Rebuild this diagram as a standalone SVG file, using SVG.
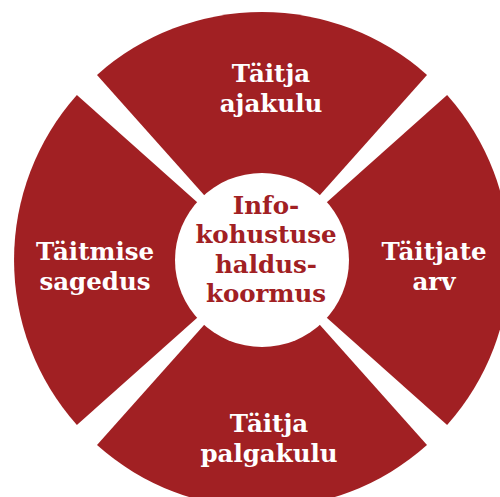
<svg xmlns="http://www.w3.org/2000/svg" width="500" height="497" viewBox="0 0 500 497">
<style>
.sec{fill:#A12023}
.lbl{font-family:"DejaVu Serif","Liberation Serif",serif;font-weight:bold;font-size:24.5px;fill:#ffffff;text-anchor:middle}
.ctr{font-family:"DejaVu Serif","Liberation Serif",serif;font-weight:bold;font-size:24.5px;fill:#A12023;text-anchor:middle}
</style>
<rect width="500" height="497" fill="#ffffff"/>
<g id="top">
<path class="sec" d="M262,260 L97,74.9 A248,248 0 0 1 427,74.9 Z"/>
<text class="lbl" x="271" y="82">Täitja</text>
<text class="lbl" x="271" y="112">ajakulu</text>
</g>
<g id="right">
<path class="sec" d="M262,260 L447.1,95 A248,248 0 0 1 447.1,425 Z"/>
<text class="lbl" x="434" y="260">Täitjate</text>
<text class="lbl" x="434" y="290">arv</text>
</g>
<g id="bottom">
<path class="sec" d="M262,260 L427,445.1 A248,248 0 0 1 97,445.1 Z"/>
<text class="lbl" x="269" y="432">Täitja</text>
<text class="lbl" x="269" y="462">palgakulu</text>
</g>
<g id="left">
<path class="sec" d="M262,260 L76.9,425 A248,248 0 0 1 76.9,95 Z"/>
<text class="lbl" x="95" y="260">Täitmise</text>
<text class="lbl" x="95" y="290">sagedus</text>
</g>
<g id="center">
<circle cx="262" cy="260" r="87" fill="#ffffff"/>
<text class="ctr" x="266" y="214">Info-</text>
<text class="ctr" x="266" y="243">kohustuse</text>
<text class="ctr" x="266" y="273">haldus-</text>
<text class="ctr" x="266" y="302">koormus</text>
</g>
</svg>
